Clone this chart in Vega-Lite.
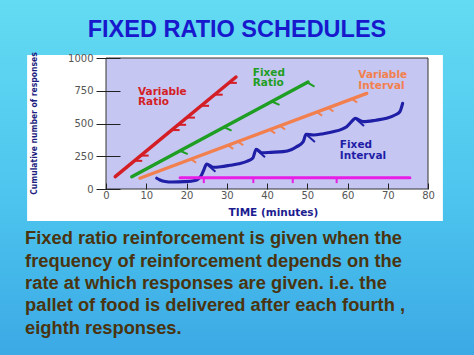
{
  "$schema": "https://vega.github.io/schema/vega-lite/v6.json",
  "width": 322,
  "height": 131,
  "autosize": {"type": "none"},
  "padding": {"left": 106, "top": 58, "right": 46, "bottom": 166},
  "background": "#4cc6ee",
  "config": {"view": {"stroke": null, "fill": null}},
  "datasets": {
    "curves": [
      {"s": "VR", "seg": "VR-main", "part": "main", "x": 2.3, "y": 95},
      {"s": "VR", "seg": "VR-main", "part": "main", "x": 32.3, "y": 855},
      {"s": "VR", "seg": "VR-m1", "part": "mark", "x": 7.0, "y": 215},
      {"s": "VR", "seg": "VR-m1", "part": "mark", "x": 9.0, "y": 215},
      {"s": "VR", "seg": "VR-m2", "part": "mark", "x": 8.6, "y": 255},
      {"s": "VR", "seg": "VR-m2", "part": "mark", "x": 10.6, "y": 255},
      {"s": "VR", "seg": "VR-m3", "part": "mark", "x": 16.3, "y": 450},
      {"s": "VR", "seg": "VR-m3", "part": "mark", "x": 18.3, "y": 450},
      {"s": "VR", "seg": "VR-m4", "part": "mark", "x": 17.9, "y": 490},
      {"s": "VR", "seg": "VR-m4", "part": "mark", "x": 19.9, "y": 490},
      {"s": "VR", "seg": "VR-m5", "part": "mark", "x": 20.1, "y": 545},
      {"s": "VR", "seg": "VR-m5", "part": "mark", "x": 22.1, "y": 545},
      {"s": "VR", "seg": "VR-m6", "part": "mark", "x": 23.6, "y": 635},
      {"s": "VR", "seg": "VR-m6", "part": "mark", "x": 25.6, "y": 635},
      {"s": "VR", "seg": "VR-m7", "part": "mark", "x": 27.0, "y": 720},
      {"s": "VR", "seg": "VR-m7", "part": "mark", "x": 29.0, "y": 720},
      {"s": "VR", "seg": "VR-m8", "part": "mark", "x": 30.5, "y": 810},
      {"s": "VR", "seg": "VR-m8", "part": "mark", "x": 32.5, "y": 810},
      {"s": "FR", "seg": "FR-main", "part": "main", "x": 6.4, "y": 94},
      {"s": "FR", "seg": "FR-main", "part": "main", "x": 50.2, "y": 817},
      {"s": "FR", "seg": "FR-m1", "part": "mark", "x": 18.4, "y": 292},
      {"s": "FR", "seg": "FR-m1", "part": "mark", "x": 20.3, "y": 266},
      {"s": "FR", "seg": "FR-m2", "part": "mark", "x": 29.3, "y": 472},
      {"s": "FR", "seg": "FR-m2", "part": "mark", "x": 31.2, "y": 446},
      {"s": "FR", "seg": "FR-m3", "part": "mark", "x": 41.2, "y": 668},
      {"s": "FR", "seg": "FR-m3", "part": "mark", "x": 43.1, "y": 642},
      {"s": "FR", "seg": "FR-m4", "part": "mark", "x": 50.0, "y": 814},
      {"s": "FR", "seg": "FR-m4", "part": "mark", "x": 51.8, "y": 782},
      {"s": "VI", "seg": "VI-main", "part": "main", "x": 8.4, "y": 82},
      {"s": "VI", "seg": "VI-main", "part": "main", "x": 64.8, "y": 730},
      {"s": "VI", "seg": "VI-m1", "part": "mark", "x": 21.1, "y": 228},
      {"s": "VI", "seg": "VI-m1", "part": "mark", "x": 22.4, "y": 200},
      {"s": "VI", "seg": "VI-m2", "part": "mark", "x": 30.3, "y": 334},
      {"s": "VI", "seg": "VI-m2", "part": "mark", "x": 31.6, "y": 306},
      {"s": "VI", "seg": "VI-m3", "part": "mark", "x": 32.8, "y": 362},
      {"s": "VI", "seg": "VI-m3", "part": "mark", "x": 34.1, "y": 334},
      {"s": "VI", "seg": "VI-m4", "part": "mark", "x": 40.7, "y": 453},
      {"s": "VI", "seg": "VI-m4", "part": "mark", "x": 42.0, "y": 425},
      {"s": "VI", "seg": "VI-m5", "part": "mark", "x": 43.2, "y": 482},
      {"s": "VI", "seg": "VI-m5", "part": "mark", "x": 44.5, "y": 454},
      {"s": "VI", "seg": "VI-m6", "part": "mark", "x": 52.4, "y": 588},
      {"s": "VI", "seg": "VI-m6", "part": "mark", "x": 53.7, "y": 560},
      {"s": "VI", "seg": "VI-m7", "part": "mark", "x": 55.2, "y": 620},
      {"s": "VI", "seg": "VI-m7", "part": "mark", "x": 56.5, "y": 592},
      {"s": "VI", "seg": "VI-m8", "part": "mark", "x": 61.1, "y": 688},
      {"s": "VI", "seg": "VI-m8", "part": "mark", "x": 62.4, "y": 660},
      {"s": "FI", "seg": "FI-main", "part": "main", "x": 12.6, "y": 82},
      {"s": "FI", "seg": "FI-main", "part": "main", "x": 13.4, "y": 69},
      {"s": "FI", "seg": "FI-main", "part": "main", "x": 14.7, "y": 57},
      {"s": "FI", "seg": "FI-main", "part": "main", "x": 16.4, "y": 53},
      {"s": "FI", "seg": "FI-main", "part": "main", "x": 19.6, "y": 56},
      {"s": "FI", "seg": "FI-main", "part": "main", "x": 22.1, "y": 65},
      {"s": "FI", "seg": "FI-main", "part": "main", "x": 23.6, "y": 99},
      {"s": "FI", "seg": "FI-main", "part": "main", "x": 24.3, "y": 145},
      {"s": "FI", "seg": "FI-main", "part": "main", "x": 25.0, "y": 191},
      {"s": "FI", "seg": "FI-main", "part": "main", "x": 26.6, "y": 166},
      {"s": "FI", "seg": "FI-main", "part": "main", "x": 28.5, "y": 170},
      {"s": "FI", "seg": "FI-main", "part": "main", "x": 30.8, "y": 181},
      {"s": "FI", "seg": "FI-main", "part": "main", "x": 33.0, "y": 193},
      {"s": "FI", "seg": "FI-main", "part": "main", "x": 35.0, "y": 211},
      {"s": "FI", "seg": "FI-main", "part": "main", "x": 36.5, "y": 237},
      {"s": "FI", "seg": "FI-main", "part": "main", "x": 37.3, "y": 303},
      {"s": "FI", "seg": "FI-main", "part": "main", "x": 38.7, "y": 277},
      {"s": "FI", "seg": "FI-main", "part": "main", "x": 41.0, "y": 280},
      {"s": "FI", "seg": "FI-main", "part": "main", "x": 44.0, "y": 285},
      {"s": "FI", "seg": "FI-main", "part": "main", "x": 46.0, "y": 300},
      {"s": "FI", "seg": "FI-main", "part": "main", "x": 47.4, "y": 323},
      {"s": "FI", "seg": "FI-main", "part": "main", "x": 49.0, "y": 361},
      {"s": "FI", "seg": "FI-main", "part": "main", "x": 49.7, "y": 418},
      {"s": "FI", "seg": "FI-main", "part": "main", "x": 51.5, "y": 412},
      {"s": "FI", "seg": "FI-main", "part": "main", "x": 54.0, "y": 422},
      {"s": "FI", "seg": "FI-main", "part": "main", "x": 56.4, "y": 437},
      {"s": "FI", "seg": "FI-main", "part": "main", "x": 58.5, "y": 455},
      {"s": "FI", "seg": "FI-main", "part": "main", "x": 59.8, "y": 476},
      {"s": "FI", "seg": "FI-main", "part": "main", "x": 61.4, "y": 527},
      {"s": "FI", "seg": "FI-main", "part": "main", "x": 61.9, "y": 540},
      {"s": "FI", "seg": "FI-main", "part": "main", "x": 63.9, "y": 514},
      {"s": "FI", "seg": "FI-main", "part": "main", "x": 67.0, "y": 525},
      {"s": "FI", "seg": "FI-main", "part": "main", "x": 69.7, "y": 540},
      {"s": "FI", "seg": "FI-main", "part": "main", "x": 71.8, "y": 565},
      {"s": "FI", "seg": "FI-main", "part": "main", "x": 73.0, "y": 590},
      {"s": "FI", "seg": "FI-main", "part": "main", "x": 73.7, "y": 654},
      {"s": "FI", "seg": "FI-a1", "part": "mark", "x": 25.0, "y": 191},
      {"s": "FI", "seg": "FI-a1", "part": "mark", "x": 27.2, "y": 131},
      {"s": "FI", "seg": "FI-a2", "part": "mark", "x": 37.3, "y": 303},
      {"s": "FI", "seg": "FI-a2", "part": "mark", "x": 39.5, "y": 243},
      {"s": "FI", "seg": "FI-a3", "part": "mark", "x": 49.7, "y": 418},
      {"s": "FI", "seg": "FI-a3", "part": "mark", "x": 51.9, "y": 358},
      {"s": "FI", "seg": "FI-a4", "part": "mark", "x": 61.9, "y": 540},
      {"s": "FI", "seg": "FI-a4", "part": "mark", "x": 64.1, "y": 480},
      {"s": "M", "seg": "M-main", "part": "main", "x": 18.4, "y": 85},
      {"s": "M", "seg": "M-main", "part": "main", "x": 75.5, "y": 85},
      {"s": "M", "seg": "M-t1", "part": "mark", "x": 24.3, "y": 85},
      {"s": "M", "seg": "M-t1", "part": "mark", "x": 24.3, "y": 45},
      {"s": "M", "seg": "M-t2", "part": "mark", "x": 36.6, "y": 85},
      {"s": "M", "seg": "M-t2", "part": "mark", "x": 36.6, "y": 45},
      {"s": "M", "seg": "M-t3", "part": "mark", "x": 46.4, "y": 85},
      {"s": "M", "seg": "M-t3", "part": "mark", "x": 46.4, "y": 45},
      {"s": "M", "seg": "M-t4", "part": "mark", "x": 57.3, "y": 85},
      {"s": "M", "seg": "M-t4", "part": "mark", "x": 57.3, "y": 45}
    ],
    "labels": [
      {"s": "VR", "label": "Variable", "x": 7.95, "y": 782},
      {"s": "VR", "label": "Ratio", "x": 7.95, "y": 700},
      {"s": "FR", "label": "Fixed", "x": 36.45, "y": 927},
      {"s": "FR", "label": "Ratio", "x": 36.45, "y": 845},
      {"s": "VI", "label": "Variable", "x": 62.7, "y": 909},
      {"s": "VI", "label": "Interval", "x": 62.7, "y": 827},
      {"s": "FI", "label": "Fixed", "x": 58.1, "y": 375},
      {"s": "FI", "label": "Interval", "x": 58.1, "y": 293}
    ],
    "texts": [
      {
        "title": "FIXED RATIO SCHEDULES",
        "body": "Fixed ratio reinforcement is given when the\nfrequency of reinforcement depends on the\nrate at which responses are given. i.e. the\npallet of food is delivered after each fourth ,\neighth responses."
      }
    ]
  },
  "layer": [
    {
      "data": {"values": [{}]},
      "mark": {
        "type": "rect",
        "fill": {
          "gradient": "linear", "x1": 0, "y1": 0, "x2": 0, "y2": 1,
          "stops": [
            {"offset": 0, "color": "#64dcf2"},
            {"offset": 0.55, "color": "#4cc4ee"},
            {"offset": 1, "color": "#3aa6e4"}
          ]
        }
      },
      "encoding": {
        "x": {"datum": -30, "type": "quantitative", "scale": {"domain": [0, 80], "nice": false},
          "axis": {"values": [0, 10, 20, 30, 40, 50, 60, 70, 80], "tickSize": -6, "tickColor": "#222222", "domain": false, "grid": false, "labelPadding": 7, "labelFont": "DejaVu Sans", "labelFontSize": 10, "labelColor": "#555555", "labelFlush": false, "labelOverlap": false, "format": "d", "title": "TIME (minutes)", "titleFont": "DejaVu Sans", "titleFontSize": 10.5, "titleFontWeight": "bold", "titleColor": "#1c1c90", "titleX": 167, "titleY": 23, "titleAlign": "center", "titleBaseline": "middle", "zindex": 1}},
        "x2": {"datum": 95},
        "y": {"datum": 1500, "type": "quantitative", "scale": {"domain": [0, 1000], "nice": false},
          "axis": {"values": [0, 250, 500, 750, 1000], "offset": -14, "tickSize": 24, "tickColor": "#222222", "domain": false, "grid": false, "labelPadding": 3, "labelFont": "DejaVu Sans", "labelFontSize": 10, "labelColor": "#555555", "labelFlush": false, "labelOverlap": false, "format": "d", "title": "Cumulative number of responses", "titleFont": "DejaVu Sans Condensed, Liberation Sans Narrow, DejaVu Sans, sans-serif", "titleFontSize": 8.5, "titleFontWeight": "bold", "titleColor": "#1c1c80", "titleX": -87, "titleY": 65, "titleAngle": -90, "titleAlign": "center", "titleBaseline": "middle", "zindex": 1}},
        "y2": {"datum": -1400}
      }
    },
    {
      "data": {"values": [{}]},
      "mark": {"type": "rect", "fill": "#ffffff"},
      "encoding": {
        "x": {"datum": -19.6, "type": "quantitative", "scale": {"domain": [0, 80], "nice": false},
          "axis": {"values": [0, 10, 20, 30, 40, 50, 60, 70, 80], "tickSize": -6, "tickColor": "#222222", "domain": false, "grid": false, "labelPadding": 7, "labelFont": "DejaVu Sans", "labelFontSize": 10, "labelColor": "#555555", "labelFlush": false, "labelOverlap": false, "format": "d", "title": "TIME (minutes)", "titleFont": "DejaVu Sans", "titleFontSize": 10.5, "titleFontWeight": "bold", "titleColor": "#1c1c90", "titleX": 167, "titleY": 23, "titleAlign": "center", "titleBaseline": "middle", "zindex": 1}},
        "x2": {"datum": 83.7},
        "y": {"datum": 1023, "type": "quantitative", "scale": {"domain": [0, 1000], "nice": false},
          "axis": {"values": [0, 250, 500, 750, 1000], "offset": -14, "tickSize": 24, "tickColor": "#222222", "domain": false, "grid": false, "labelPadding": 3, "labelFont": "DejaVu Sans", "labelFontSize": 10, "labelColor": "#555555", "labelFlush": false, "labelOverlap": false, "format": "d", "title": "Cumulative number of responses", "titleFont": "DejaVu Sans Condensed, Liberation Sans Narrow, DejaVu Sans, sans-serif", "titleFontSize": 8.5, "titleFontWeight": "bold", "titleColor": "#1c1c80", "titleX": -87, "titleY": 65, "titleAngle": -90, "titleAlign": "center", "titleBaseline": "middle", "zindex": 1}},
        "y2": {"datum": -244}
      }
    },
    {
      "data": {"values": [{}]},
      "mark": {"type": "rect", "fill": "#c6c6f2", "stroke": "#333333", "strokeWidth": 1},
      "encoding": {
        "x": {"datum": 0, "type": "quantitative", "scale": {"domain": [0, 80], "nice": false},
          "axis": {"values": [0, 10, 20, 30, 40, 50, 60, 70, 80], "tickSize": -6, "tickColor": "#222222", "domain": false, "grid": false, "labelPadding": 7, "labelFont": "DejaVu Sans", "labelFontSize": 10, "labelColor": "#555555", "labelFlush": false, "labelOverlap": false, "format": "d", "title": "TIME (minutes)", "titleFont": "DejaVu Sans", "titleFontSize": 10.5, "titleFontWeight": "bold", "titleColor": "#1c1c90", "titleX": 167, "titleY": 23, "titleAlign": "center", "titleBaseline": "middle", "zindex": 1}},
        "x2": {"datum": 80},
        "y": {"datum": 0, "type": "quantitative", "scale": {"domain": [0, 1000], "nice": false},
          "axis": {"values": [0, 250, 500, 750, 1000], "offset": -14, "tickSize": 24, "tickColor": "#222222", "domain": false, "grid": false, "labelPadding": 3, "labelFont": "DejaVu Sans", "labelFontSize": 10, "labelColor": "#555555", "labelFlush": false, "labelOverlap": false, "format": "d", "title": "Cumulative number of responses", "titleFont": "DejaVu Sans Condensed, Liberation Sans Narrow, DejaVu Sans, sans-serif", "titleFontSize": 8.5, "titleFontWeight": "bold", "titleColor": "#1c1c80", "titleX": -87, "titleY": 65, "titleAngle": -90, "titleAlign": "center", "titleBaseline": "middle", "zindex": 1}},
        "y2": {"datum": 1000}
      }
    },
    {
      "data": {"name": "curves"},
      "transform": [{"filter": "datum.part === 'main'"}],
      "mark": {"type": "line", "interpolate": "monotone", "strokeCap": "round"},
      "encoding": {
        "x": {"field": "x", "type": "quantitative", "scale": {"domain": [0, 80], "nice": false},
          "axis": {"values": [0, 10, 20, 30, 40, 50, 60, 70, 80], "tickSize": -6, "tickColor": "#222222", "domain": false, "grid": false, "labelPadding": 7, "labelFont": "DejaVu Sans", "labelFontSize": 10, "labelColor": "#555555", "labelFlush": false, "labelOverlap": false, "format": "d", "title": "TIME (minutes)", "titleFont": "DejaVu Sans", "titleFontSize": 10.5, "titleFontWeight": "bold", "titleColor": "#1c1c90", "titleX": 167, "titleY": 23, "titleAlign": "center", "titleBaseline": "middle", "zindex": 1}},
        "y": {"field": "y", "type": "quantitative", "scale": {"domain": [0, 1000], "nice": false},
          "axis": {"values": [0, 250, 500, 750, 1000], "offset": -14, "tickSize": 24, "tickColor": "#222222", "domain": false, "grid": false, "labelPadding": 3, "labelFont": "DejaVu Sans", "labelFontSize": 10, "labelColor": "#555555", "labelFlush": false, "labelOverlap": false, "format": "d", "title": "Cumulative number of responses", "titleFont": "DejaVu Sans Condensed, Liberation Sans Narrow, DejaVu Sans, sans-serif", "titleFontSize": 8.5, "titleFontWeight": "bold", "titleColor": "#1c1c80", "titleX": -87, "titleY": 65, "titleAngle": -90, "titleAlign": "center", "titleBaseline": "middle", "zindex": 1}},
        "detail": {"field": "seg"},
        "color": {
          "field": "s", "type": "nominal",
          "scale": {"domain": ["VR", "FR", "VI", "FI", "M"], "range": ["#d41e26", "#1e9e22", "#f2804e", "#1e1ea6", "#e61ee6"]},
          "legend": null
        },
        "strokeWidth": {
          "field": "s", "type": "nominal",
          "scale": {"domain": ["VR", "FR", "VI", "FI", "M"], "range": [3.5, 3, 3, 2, 1.8]},
          "legend": null
        }
      }
    },
    {
      "data": {"name": "curves"},
      "transform": [{"filter": "datum.part === 'mark'"}],
      "mark": {"type": "line", "strokeWidth": 2},
      "encoding": {
        "x": {"field": "x", "type": "quantitative", "scale": {"domain": [0, 80], "nice": false},
          "axis": {"values": [0, 10, 20, 30, 40, 50, 60, 70, 80], "tickSize": -6, "tickColor": "#222222", "domain": false, "grid": false, "labelPadding": 7, "labelFont": "DejaVu Sans", "labelFontSize": 10, "labelColor": "#555555", "labelFlush": false, "labelOverlap": false, "format": "d", "title": "TIME (minutes)", "titleFont": "DejaVu Sans", "titleFontSize": 10.5, "titleFontWeight": "bold", "titleColor": "#1c1c90", "titleX": 167, "titleY": 23, "titleAlign": "center", "titleBaseline": "middle", "zindex": 1}},
        "y": {"field": "y", "type": "quantitative", "scale": {"domain": [0, 1000], "nice": false},
          "axis": {"values": [0, 250, 500, 750, 1000], "offset": -14, "tickSize": 24, "tickColor": "#222222", "domain": false, "grid": false, "labelPadding": 3, "labelFont": "DejaVu Sans", "labelFontSize": 10, "labelColor": "#555555", "labelFlush": false, "labelOverlap": false, "format": "d", "title": "Cumulative number of responses", "titleFont": "DejaVu Sans Condensed, Liberation Sans Narrow, DejaVu Sans, sans-serif", "titleFontSize": 8.5, "titleFontWeight": "bold", "titleColor": "#1c1c80", "titleX": -87, "titleY": 65, "titleAngle": -90, "titleAlign": "center", "titleBaseline": "middle", "zindex": 1}},
        "detail": {"field": "seg"},
        "color": {"field": "s", "type": "nominal", "legend": null}
      }
    },
    {
      "data": {"name": "labels"},
      "mark": {"type": "text", "align": "left", "baseline": "top", "font": "DejaVu Sans", "fontWeight": "bold", "fontSize": 10.5},
      "encoding": {
        "x": {"field": "x", "type": "quantitative", "scale": {"domain": [0, 80], "nice": false},
          "axis": {"values": [0, 10, 20, 30, 40, 50, 60, 70, 80], "tickSize": -6, "tickColor": "#222222", "domain": false, "grid": false, "labelPadding": 7, "labelFont": "DejaVu Sans", "labelFontSize": 10, "labelColor": "#555555", "labelFlush": false, "labelOverlap": false, "format": "d", "title": "TIME (minutes)", "titleFont": "DejaVu Sans", "titleFontSize": 10.5, "titleFontWeight": "bold", "titleColor": "#1c1c90", "titleX": 167, "titleY": 23, "titleAlign": "center", "titleBaseline": "middle", "zindex": 1}},
        "y": {"field": "y", "type": "quantitative", "scale": {"domain": [0, 1000], "nice": false},
          "axis": {"values": [0, 250, 500, 750, 1000], "offset": -14, "tickSize": 24, "tickColor": "#222222", "domain": false, "grid": false, "labelPadding": 3, "labelFont": "DejaVu Sans", "labelFontSize": 10, "labelColor": "#555555", "labelFlush": false, "labelOverlap": false, "format": "d", "title": "Cumulative number of responses", "titleFont": "DejaVu Sans Condensed, Liberation Sans Narrow, DejaVu Sans, sans-serif", "titleFontSize": 8.5, "titleFontWeight": "bold", "titleColor": "#1c1c80", "titleX": -87, "titleY": 65, "titleAngle": -90, "titleAlign": "center", "titleBaseline": "middle", "zindex": 1}},
        "text": {"field": "label"},
        "color": {"field": "s", "type": "nominal", "legend": null}
      }
    },
    {
      "data": {"name": "texts"},
      "mark": {"type": "text", "align": "center", "baseline": "alphabetic", "font": "Liberation Sans", "fontWeight": "bold", "fontSize": 23.5, "color": "#1818cc"},
      "encoding": {
        "x": {"datum": 32.55, "type": "quantitative", "scale": {"domain": [0, 80], "nice": false},
          "axis": {"values": [0, 10, 20, 30, 40, 50, 60, 70, 80], "tickSize": -6, "tickColor": "#222222", "domain": false, "grid": false, "labelPadding": 7, "labelFont": "DejaVu Sans", "labelFontSize": 10, "labelColor": "#555555", "labelFlush": false, "labelOverlap": false, "format": "d", "title": "TIME (minutes)", "titleFont": "DejaVu Sans", "titleFontSize": 10.5, "titleFontWeight": "bold", "titleColor": "#1c1c90", "titleX": 167, "titleY": 23, "titleAlign": "center", "titleBaseline": "middle", "zindex": 1}},
        "y": {"datum": 1158, "type": "quantitative", "scale": {"domain": [0, 1000], "nice": false},
          "axis": {"values": [0, 250, 500, 750, 1000], "offset": -14, "tickSize": 24, "tickColor": "#222222", "domain": false, "grid": false, "labelPadding": 3, "labelFont": "DejaVu Sans", "labelFontSize": 10, "labelColor": "#555555", "labelFlush": false, "labelOverlap": false, "format": "d", "title": "Cumulative number of responses", "titleFont": "DejaVu Sans Condensed, Liberation Sans Narrow, DejaVu Sans, sans-serif", "titleFontSize": 8.5, "titleFontWeight": "bold", "titleColor": "#1c1c80", "titleX": -87, "titleY": 65, "titleAngle": -90, "titleAlign": "center", "titleBaseline": "middle", "zindex": 1}},
        "text": {"field": "title"}
      }
    },
    {
      "data": {"name": "texts"},
      "mark": {"type": "text", "align": "left", "baseline": "alphabetic", "font": "Liberation Sans", "fontWeight": "bold", "fontSize": 18.3, "lineBreak": "\n", "lineHeight": 22.4, "color": "#4a3410"},
      "encoding": {
        "x": {"datum": -20.1, "type": "quantitative", "scale": {"domain": [0, 80], "nice": false},
          "axis": {"values": [0, 10, 20, 30, 40, 50, 60, 70, 80], "tickSize": -6, "tickColor": "#222222", "domain": false, "grid": false, "labelPadding": 7, "labelFont": "DejaVu Sans", "labelFontSize": 10, "labelColor": "#555555", "labelFlush": false, "labelOverlap": false, "format": "d", "title": "TIME (minutes)", "titleFont": "DejaVu Sans", "titleFontSize": 10.5, "titleFontWeight": "bold", "titleColor": "#1c1c90", "titleX": 167, "titleY": 23, "titleAlign": "center", "titleBaseline": "middle", "zindex": 1}},
        "y": {"datum": -422, "type": "quantitative", "scale": {"domain": [0, 1000], "nice": false},
          "axis": {"values": [0, 250, 500, 750, 1000], "offset": -14, "tickSize": 24, "tickColor": "#222222", "domain": false, "grid": false, "labelPadding": 3, "labelFont": "DejaVu Sans", "labelFontSize": 10, "labelColor": "#555555", "labelFlush": false, "labelOverlap": false, "format": "d", "title": "Cumulative number of responses", "titleFont": "DejaVu Sans Condensed, Liberation Sans Narrow, DejaVu Sans, sans-serif", "titleFontSize": 8.5, "titleFontWeight": "bold", "titleColor": "#1c1c80", "titleX": -87, "titleY": 65, "titleAngle": -90, "titleAlign": "center", "titleBaseline": "middle", "zindex": 1}},
        "text": {"field": "body"}
      }
    }
  ]
}
